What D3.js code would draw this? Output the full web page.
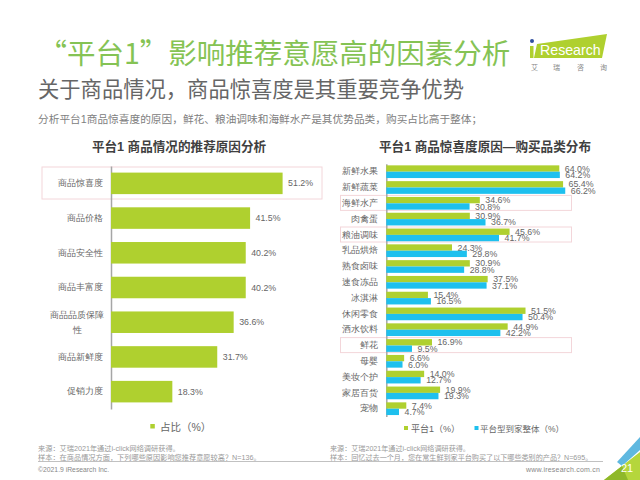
<!DOCTYPE html>
<html>
<head>
<meta charset="utf-8">
<script src="https://cdn.jsdelivr.net/npm/d3@7"></script>
<style>
  html, body { margin: 0; padding: 0; background: #fff; }
  svg { display: block; font-family: "Liberation Sans", "Noto Sans CJK SC", sans-serif; }
  .domain { stroke: #a6a6a6; stroke-width: 1.5px; }
</style>
</head>
<body>
<svg id="chart" width="640" height="480"></svg>
<script>
const reasonCats = ['商品惊喜度', '商品价格', '商品安全性', '商品丰富度', '商品品质保障性', '商品新鲜度', '促销力度'];
const reasonVals = [51.2, 41.5, 40.2, 40.2, 36.6, 31.7, 18.3];

const goodsCats = ['新鲜水果', '新鲜蔬菜', '海鲜水产', '肉禽蛋', '粮油调味', '乳品烘焙', '熟食卤味', '速食冻品', '冰淇淋', '休闲零食', '酒水饮料', '鲜花', '母婴', '美妆个护', '家居百货', '宠物'];
const platformVals = [64.0, 65.4, 34.6, 30.9, 45.6, 24.3, 30.9, 37.5, 15.4, 51.5, 44.9, 16.9, 6.6, 14.0, 19.9, 7.4];
const overallVals = [64.2, 66.2, 30.8, 36.7, 41.7, 29.8, 28.8, 37.1, 16.5, 50.4, 42.2, 9.5, 6.0, 12.7, 19.3, 4.7];
const goodsHighlight = ['海鲜水产', '粮油调味', '鲜花'];

const GREEN = '#afd02f';
const BLUE = '#1ec0ee';
const GREY = '#666';
const CJK = '"Noto Sans CJK SC", sans-serif';

const svg = d3.select('#chart');

function label(x, y, str, size, color, anchor, weight) {
  return svg.append('text')
    .attr('x', x).attr('y', y)
    .attr('font-size', size)
    .attr('fill', color)
    .attr('text-anchor', anchor || 'start')
    .attr('font-weight', weight || 'normal')
    .text(str);
}

// headings
label(38.5, 64, '“平台1”影响推荐意愿高的因素分析', 28.5, '#85c354').attr('font-family', CJK);
label(38, 97, '关于商品情况，商品惊喜度是其重要竞争优势', 21.3, '#666').attr('font-family', CJK);
label(38, 123, '分析平台1商品惊喜度的原因，鲜花、粮油调味和海鲜水产是其优势品类，购买占比高于整体；', 10.7, '#808080');
label(179, 151, '平台1 商品情况的推荐原因分析', 12.6, '#404040', 'middle', 'bold');
label(485, 151, '平台1 商品惊喜度原因—购买品类分布', 12.6, '#404040', 'middle', 'bold');

// logo
svg.append('polygon').attr('points', '537,44 607,34 602,58 534,58').attr('fill', GREEN);
svg.append('circle').attr('cx', 532).attr('cy', 41).attr('r', 2).attr('fill', '#2f4f9f');
svg.append('rect').attr('x', 530).attr('y', 46).attr('width', 3.5).attr('height', 12).attr('fill', GREEN);
label(540, 55, 'Research', 14.2, '#fff');
[['艾', 531], ['瑞', 553], ['咨', 577], ['询', 600]].forEach(d => label(d[1], 70, d[0], 7, '#888'));

// left chart
const xLeft = d3.scaleLinear().domain([0, 51.2]).range([111, 282.6]);
const yLeft = d3.scaleBand().domain(reasonCats).range([166, 409]).paddingInner(0.38).paddingOuter(0.19);

svg.append('rect').attr('x', 42).attr('y', 167).attr('width', 280).attr('height', 32)
  .attr('fill', 'none').attr('stroke', '#f3d6da').attr('stroke-width', 1);

const leftAxis = svg.append('g').attr('transform', 'translate(111,0)')
  .call(d3.axisLeft(yLeft).tickSize(0).tickPadding(8));
leftAxis.selectAll('text').attr('font-size', 8.6).attr('font-family', null).attr('fill', GREY);
leftAxis.selectAll('.tick text').filter(d => d === '商品品质保障性').each(function () {
  const t = d3.select(this).text(null).attr('text-anchor', 'middle').attr('x', -34);
  t.append('tspan').attr('x', -34).attr('dy', '-0.45em').text('商品品质保障');
  t.append('tspan').attr('x', -34).attr('dy', '1.75em').text('性');
});

svg.append('g').selectAll('rect').data(reasonCats).join('rect')
  .attr('x', xLeft(0))
  .attr('y', d => yLeft(d))
  .attr('width', (d, i) => xLeft(reasonVals[i]) - xLeft(0))
  .attr('height', yLeft.bandwidth())
  .attr('fill', GREEN);

svg.append('g').selectAll('text').data(reasonCats).join('text')
  .attr('x', (d, i) => xLeft(reasonVals[i]) + 5.5)
  .attr('y', d => yLeft(d) + yLeft.bandwidth() / 2)
  .attr('dy', '0.35em')
  .attr('font-size', 8.8)
  .attr('fill', GREY)
  .text((d, i) => reasonVals[i].toFixed(1) + '%');

// right chart
const xRight = d3.scaleLinear().domain([0, 64]).range([386.3, 559.3]);
const yRight = d3.scaleBand().domain(goodsCats).range([163.8, 416.6]);
const barH = 6.35;

svg.append('g').selectAll('rect').data(goodsHighlight).join('rect')
  .attr('x', 340.5)
  .attr('y', d => yRight(d))
  .attr('width', 231)
  .attr('height', 15)
  .attr('fill', 'none')
  .attr('stroke', '#f3d6da');

const rightAxis = svg.append('g').attr('transform', 'translate(386.3,0)')
  .call(d3.axisLeft(yRight).tickSize(0).tickPadding(8));
rightAxis.selectAll('text').attr('font-size', 8.6).attr('font-family', null).attr('fill', GREY);

[[platformVals, GREEN, -barH], [overallVals, BLUE, 0]].forEach(([vals, color, offset]) => {
  const mid = d => yRight(d) + yRight.bandwidth() / 2 + offset;
  svg.append('g').selectAll('rect').data(goodsCats).join('rect')
    .attr('x', xRight(0))
    .attr('y', mid)
    .attr('width', (d, i) => xRight(vals[i]) - xRight(0))
    .attr('height', barH)
    .attr('fill', color);
  svg.append('g').selectAll('text').data(goodsCats).join('text')
    .attr('x', (d, i) => xRight(vals[i]) + 5.5)
    .attr('y', d => mid(d) + barH / 2)
    .attr('dy', '0.35em')
    .attr('font-size', 8.8)
    .attr('fill', GREY)
    .text((d, i) => vals[i].toFixed(1) + '%');
});

// legends
svg.append('rect').attr('x', 150.3).attr('y', 424).attr('width', 4.5).attr('height', 4.5).attr('fill', GREEN);
label(160, 430.5, '占比（%）', 10.5, GREY);
svg.append('rect').attr('x', 404).attr('y', 426).attr('width', 4).attr('height', 4).attr('fill', GREEN);
label(411, 432, '平台1（%）', 9, GREY);
svg.append('rect').attr('x', 474.5).attr('y', 426).attr('width', 4).attr('height', 4).attr('fill', BLUE);
label(480, 432, '平台型到家整体（%）', 8.5, GREY);

// notes and footer
label(38, 450.5, '来源：艾瑞2021年通过i-click网络调研获得。', 7.2, '#999');
label(38, 460, '样本：在商品情况方面，下列哪些原因影响您推荐意愿较高？N=136。', 7.2, '#999');
label(330, 450.5, '来源：艾瑞2021年通过i-click网络调研获得。', 7.1, '#999');
label(330, 460, '样本：回忆过去一个月，您在常生鲜到家平台购买了以下哪些类别的产品？N=695。', 7.1, '#999');
svg.append('line').attr('x1', 38).attr('x2', 603).attr('y1', 461.5).attr('y2', 461.5).attr('stroke', '#a6a6a6').attr('stroke-width', 0.7);
label(38, 471.5, '©2021.9 iResearch Inc.', 6.8, '#888');
label(600, 471.5, 'www.iresearch.com.cn', 7, '#888', 'end').attr('letter-spacing', 0.2);

// page corner
svg.append('polygon').attr('points', '617,462 640,437 640,450 622,466').attr('fill', '#5fb8e0');
svg.append('polygon').attr('points', '604,480 622,466 640,452 640,480').attr('fill', '#b5d63c');
svg.append('polygon').attr('points', '604,480 622,466 628,480').attr('fill', '#8fb82a');
label(627, 472, '21', 11, '#fff', 'middle');
</script>
</body>
</html>
